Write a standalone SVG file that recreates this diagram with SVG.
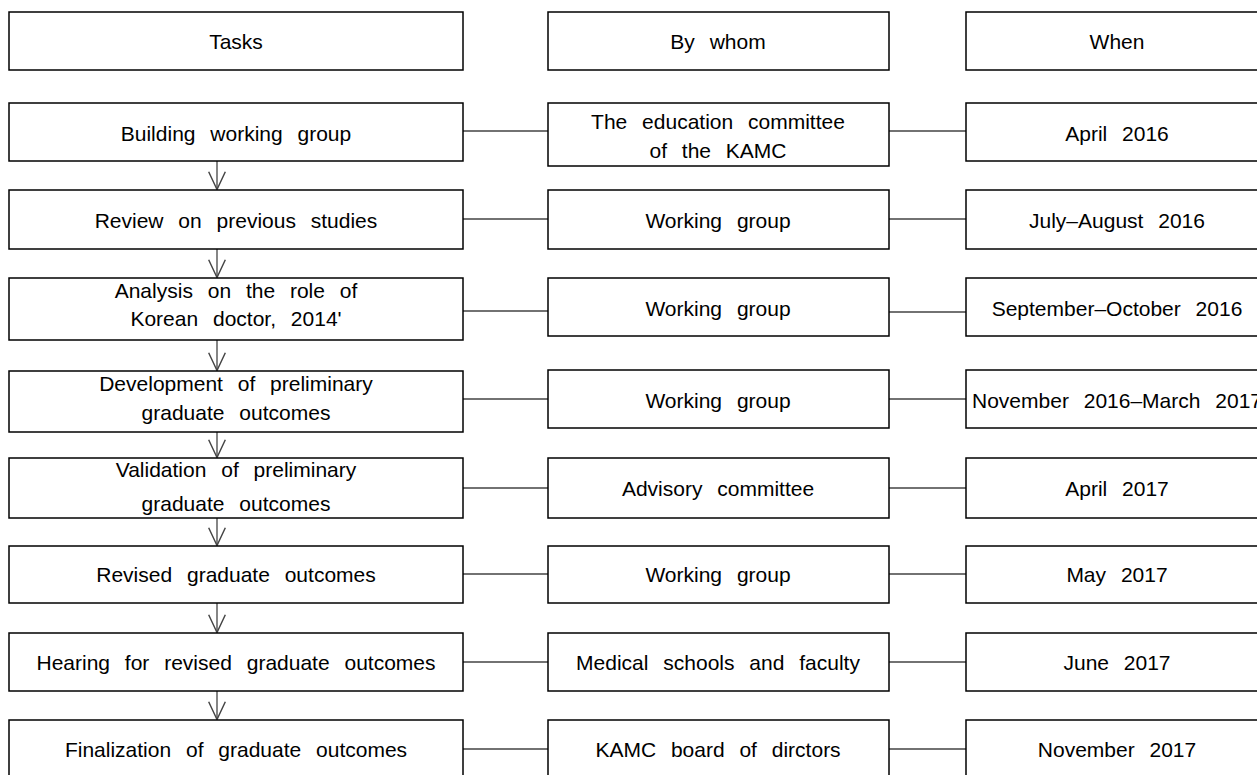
<svg xmlns="http://www.w3.org/2000/svg" width="1257" height="775" viewBox="0 0 1257 775">
<style>
.box{fill:#fff;stroke:#000;stroke-width:1.5}
.t{font-family:"Liberation Sans",Arial,sans-serif;font-size:21px;word-spacing:9px;fill:#000;text-anchor:middle}
.c{stroke:#444;stroke-width:1.4;fill:none}
.a{stroke:#444;stroke-width:1.3;fill:none}
</style>
<defs>
<marker id="v" markerUnits="userSpaceOnUse" markerWidth="20" markerHeight="20" viewBox="-17 -9 18 18" refX="0" refY="0" orient="auto">
<path d="M-16,-7.5 L0,0 L-16,7.5" fill="none" stroke="#444" stroke-width="1.3"/>
</marker>
</defs>
<rect width="1257" height="775" fill="#fff"/>
<g id="connectors">
<path class="a" d="M217,161 V189.5" marker-end="url(#v)"/>
<path class="a" d="M217,249 V277.5" marker-end="url(#v)"/>
<path class="a" d="M217,340 V370.5" marker-end="url(#v)"/>
<path class="a" d="M217,432 V457.5" marker-end="url(#v)"/>
<path class="a" d="M217,518 V545.5" marker-end="url(#v)"/>
<path class="a" d="M217,603 V632.5" marker-end="url(#v)"/>
<path class="a" d="M217,691 V719.5" marker-end="url(#v)"/>
<path class="c" d="M463,131 H548 M889,131 H966"/>
<path class="c" d="M463,219 H548 M889,219 H966"/>
<path class="c" d="M463,311 H548 M889,312 H966"/>
<path class="c" d="M463,399 H548 M889,399 H966"/>
<path class="c" d="M463,488 H548 M889,488 H966"/>
<path class="c" d="M463,574 H548 M889,574 H966"/>
<path class="c" d="M463,662 H548 M889,662 H966"/>
<path class="c" d="M463,749 H548 M889,749 H966"/>
</g>
<g id="h1"><rect class="box" x="9" y="12" width="454" height="58"/><text class="t" x="236" y="49">Tasks</text></g>
<g id="h2"><rect class="box" x="548" y="12" width="341" height="58"/><text class="t" x="718" y="49">By whom</text></g>
<g id="h3"><rect class="box" x="966" y="12" width="300" height="58"/><text class="t" x="1117" y="49">When</text></g>

<g id="r1c1"><rect class="box" x="9" y="103" width="454" height="58"/><text class="t" x="236" y="141">Building working group</text></g>
<g id="r1c2"><rect class="box" x="548" y="103" width="341" height="63"/><text class="t" x="718" y="129">The education committee</text><text class="t" x="718" y="158">of the KAMC</text></g>
<g id="r1c3"><rect class="box" x="966" y="103" width="300" height="58"/><text class="t" x="1117" y="141">April 2016</text></g>

<g id="r2c1"><rect class="box" x="9" y="190" width="454" height="59"/><text class="t" x="236" y="228">Review on previous studies</text></g>
<g id="r2c2"><rect class="box" x="548" y="190" width="341" height="59"/><text class="t" x="718" y="228">Working group</text></g>
<g id="r2c3"><rect class="box" x="966" y="190" width="300" height="59"/><text class="t" x="1117" y="228">July–August 2016</text></g>

<g id="r3c1"><rect class="box" x="9" y="278" width="454" height="62"/><text class="t" x="236" y="298">Analysis on the role of</text><text class="t" x="236" y="326">Korean doctor, 2014'</text></g>
<g id="r3c2"><rect class="box" x="548" y="278" width="341" height="58"/><text class="t" x="718" y="316">Working group</text></g>
<g id="r3c3"><rect class="box" x="966" y="278" width="300" height="58"/><text class="t" x="1117" y="316">September–October 2016</text></g>

<g id="r4c1"><rect class="box" x="9" y="371" width="454" height="61"/><text class="t" x="236" y="391">Development of preliminary</text><text class="t" x="236" y="420">graduate outcomes</text></g>
<g id="r4c2"><rect class="box" x="548" y="370" width="341" height="58"/><text class="t" x="718" y="408">Working group</text></g>
<g id="r4c3"><rect class="box" x="966" y="370" width="300" height="58"/><text class="t" x="1117" y="408">November 2016–March 2017</text></g>

<g id="r5c1"><rect class="box" x="9" y="458" width="454" height="60"/><text class="t" x="236" y="477">Validation of preliminary</text><text class="t" x="236" y="511">graduate outcomes</text></g>
<g id="r5c2"><rect class="box" x="548" y="458" width="341" height="60"/><text class="t" x="718" y="496">Advisory committee</text></g>
<g id="r5c3"><rect class="box" x="966" y="458" width="300" height="60"/><text class="t" x="1117" y="496">April 2017</text></g>

<g id="r6c1"><rect class="box" x="9" y="546" width="454" height="57"/><text class="t" x="236" y="582">Revised graduate outcomes</text></g>
<g id="r6c2"><rect class="box" x="548" y="546" width="341" height="57"/><text class="t" x="718" y="582">Working group</text></g>
<g id="r6c3"><rect class="box" x="966" y="546" width="300" height="57"/><text class="t" x="1117" y="582">May 2017</text></g>

<g id="r7c1"><rect class="box" x="9" y="633" width="454" height="58"/><text class="t" x="236" y="670">Hearing for revised graduate outcomes</text></g>
<g id="r7c2"><rect class="box" x="548" y="633" width="341" height="58"/><text class="t" x="718" y="670">Medical schools and faculty</text></g>
<g id="r7c3"><rect class="box" x="966" y="633" width="300" height="58"/><text class="t" x="1117" y="670">June 2017</text></g>

<g id="r8c1"><rect class="box" x="9" y="720" width="454" height="60"/><text class="t" x="236" y="757">Finalization of graduate outcomes</text></g>
<g id="r8c2"><rect class="box" x="548" y="720" width="341" height="60"/><text class="t" x="718" y="757">KAMC board of dirctors</text></g>
<g id="r8c3"><rect class="box" x="966" y="720" width="300" height="60"/><text class="t" x="1117" y="757">November 2017</text></g>
</svg>
